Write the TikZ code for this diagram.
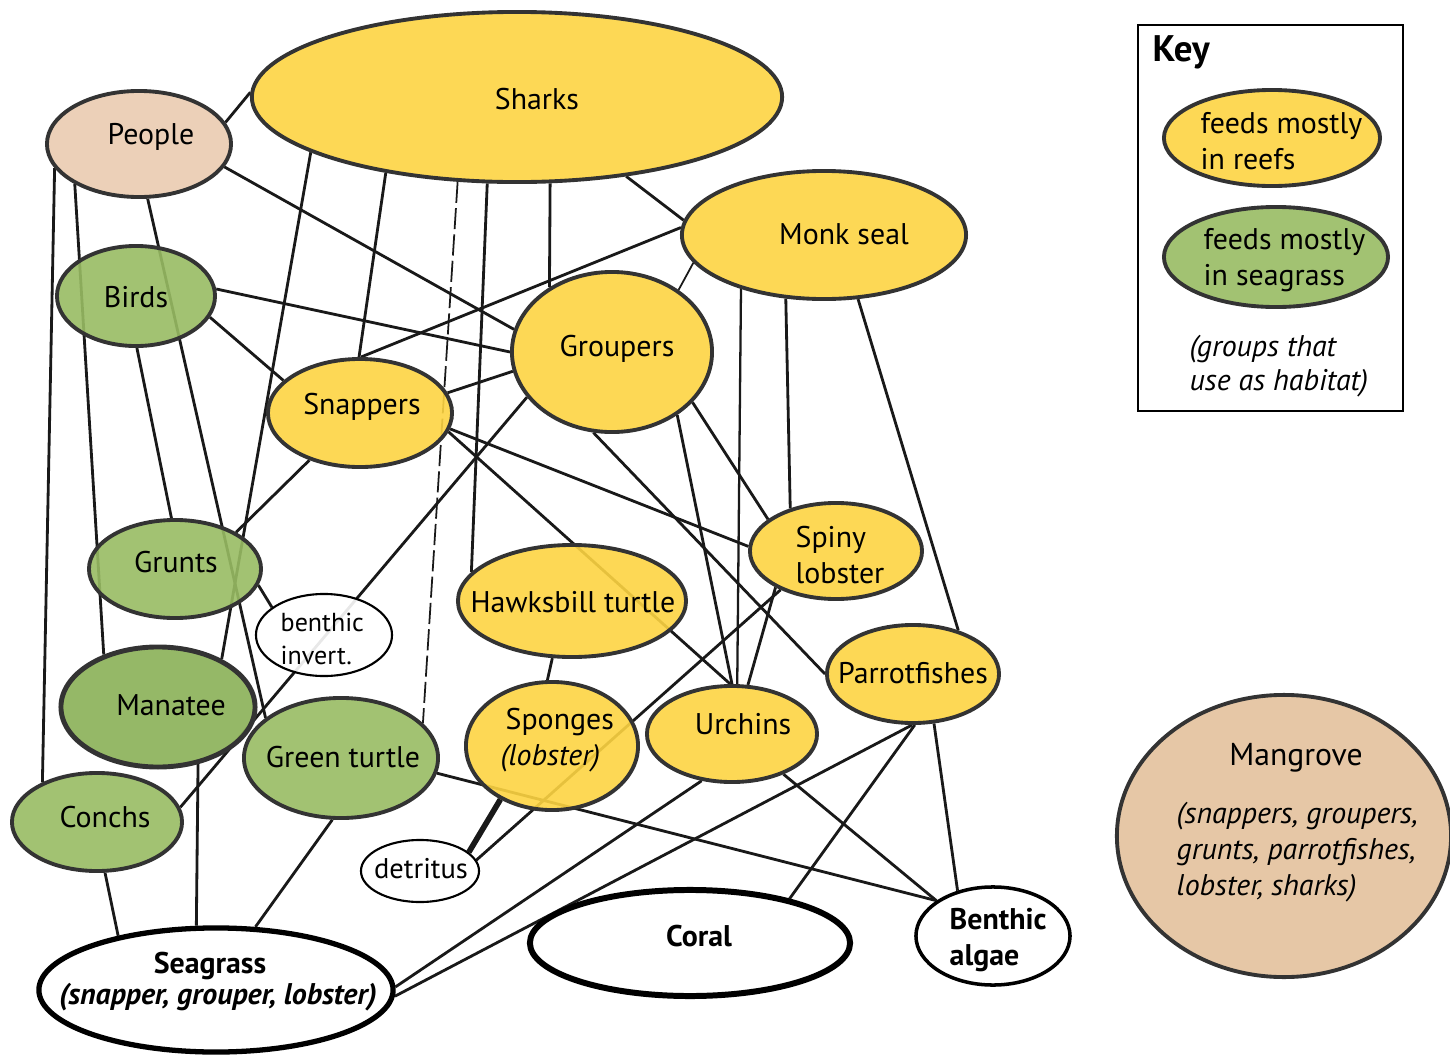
\documentclass[tikz,border=0pt]{standalone}
\usepackage{fontspec}
\setmainfont{PT Sans}
\usetikzlibrary{shapes.geometric}
\pgfdeclarelayer{bg}
\pgfsetlayers{bg,main}
\definecolor{reef}{HTML}{FDD442}
\definecolor{grass}{HTML}{98BB63}
\definecolor{dgrass}{HTML}{8AB056}
\definecolor{peach}{HTML}{EACBB0}
\definecolor{mang}{HTML}{E3C19C}
\definecolor{edgec}{HTML}{333333}
\begin{document}
\begin{tikzpicture}[x=0.01cm,y=-0.01cm,
  font=\fontsize{8.5}{10.4}\selectfont,
  ell/.style={ellipse,draw=edgec,line width=1.1pt,inner sep=0pt,fill opacity=0.9},
  reefn/.style={ell,fill=reef},
  grassn/.style={ell,fill=grass},
  whiten/.style={ellipse,draw=black,fill=white,inner sep=0pt,fill opacity=0.9},
  lbl/.style={inner sep=0pt,align=center},
  lbll/.style={inner sep=0pt,align=left,anchor=west},
  link/.style={line width=0.8pt,black!90},
  thinlink/.style={line width=0.5pt,black!90}]
\useasboundingbox (0,0) rectangle (1450,1057);

% nodes
\node[reefn,minimum width=5.30cm,minimum height=1.70cm] (sharks) at (517,97) {};
\node[ell,fill=peach,minimum width=1.84cm,minimum height=1.06cm] (people) at (139,144) {};
\node[reefn,minimum width=2.84cm,minimum height=1.28cm] (monk) at (824,235) {};
\node[grassn,minimum width=1.58cm,minimum height=1.00cm] (birds) at (136,296) {};
\node[reefn,minimum width=2.00cm,minimum height=1.60cm] (groupers) at (612,352) {};
\node[reefn,minimum width=1.84cm,minimum height=1.08cm] (snappers) at (360,413) {};
\node[grassn,minimum width=1.72cm,minimum height=0.98cm] (grunts) at (175,569) {};
\node[whiten,line width=0.6pt,minimum width=1.36cm,minimum height=0.82cm] (benthic) at (324,635) {};
\node[reefn,minimum width=2.28cm,minimum height=1.12cm] (hawks) at (572,601) {};
\node[reefn,minimum width=1.72cm,minimum height=0.96cm] (spiny) at (836,551) {};
\node[reefn,minimum width=1.72cm,minimum height=0.98cm] (parrot) at (913,674) {};
\node[ell,fill=dgrass,line width=1.4pt,minimum width=1.94cm,minimum height=1.20cm] (manatee) at (158,707) {};
\node[grassn,minimum width=1.94cm,minimum height=1.20cm] (green) at (341,758) {};
\node[reefn,minimum width=1.72cm,minimum height=1.28cm] (sponges) at (552,746) {};
\node[reefn,minimum width=1.70cm,minimum height=0.96cm] (urchins) at (732,734) {};
\node[grassn,minimum width=1.70cm,minimum height=0.98cm] (conchs) at (97,822) {};
\node[whiten,line width=0.6pt,minimum width=1.18cm,minimum height=0.62cm] (detritus) at (420,871) {};
\node[whiten,line width=1.5pt,minimum width=3.54cm,minimum height=1.24cm] (seagrass) at (216,990) {};
\node[whiten,line width=1.7pt,minimum width=3.20cm,minimum height=1.06cm] (coral) at (690,943) {};
\node[whiten,line width=1.0pt,minimum width=1.54cm,minimum height=0.98cm] (algae) at (993,936) {};
\node[ell,fill=mang,minimum width=3.34cm,minimum height=2.82cm] (mangrove) at (1284,836) {};
\node[draw=black,line width=0.6pt,minimum width=2.65cm,minimum height=3.86cm,inner sep=0pt] (keybox) at (1270.5,218) {};
\node[reefn,minimum width=2.16cm,minimum height=0.96cm] (keyy) at (1272,138) {};
\node[grassn,minimum width=2.24cm,minimum height=1.00cm] (keyg) at (1276,257) {};

% labels
\node[lbl] (sharks-t) at (537,99) {Sharks};
\node[lbl] (people-t) at (151,137) {People};
\node[lbl] (monk-t) at (844,234) {Monk seal};
\node[lbl] (birds-t) at (136,297) {Birds};
\node[lbl] (groupers-t) at (617,349) {Groupers};
\node[lbl] (snappers-t) at (362,407) {Snappers};
\node[lbl] (grunts-t) at (176,562) {Grunts};
\node[lbll,font=\fontsize{7.4}{9.2}\selectfont] (benthic-t) at (280,639) {benthic\\invert.};
\node[lbl] (hawks-t) at (573,602) {Hawksbill turtle};
\node[lbll] (spiny-t) at (795,555) {Spiny\\lobster};
\node[lbl] (parrot-t) at (913,673) {Parrotfishes};
\node[lbl] (manatee-t) at (171,705) {Manatee};
\node[lbl] (green-t) at (343,757) {Green turtle};
\node[lbll] (sponges-t) at (500,740) {\hspace*{0.05cm}Sponges\\\textit{(lobster)}};
\node[lbl] (urchins-t) at (743,724) {Urchins};
\node[lbl] (conchs-t) at (105,817) {Conchs};
\node[lbl,font=\fontsize{8.1}{10}\selectfont] (detritus-t) at (421,869) {detritus};
\node[lbl,font=\fontsize{8.5}{10}\selectfont\bfseries] (seagrass-t) at (210,966) {Seagrass};
\node[lbl,font=\fontsize{8.5}{10}\selectfont\bfseries\itshape] (seagrass-s) at (218,997) {(snapper, grouper, lobster)};
\node[lbl,font=\fontsize{8.5}{10}\selectfont\bfseries] (coral-t) at (699,936) {Coral};
\node[lbll,font=\fontsize{8.5}{10.4}\selectfont\bfseries] (algae-t) at (949,940) {Benthic\\algae};
\node[lbl,font=\fontsize{9}{10.4}\selectfont] (mangrove-t) at (1296,758) {Mangrove};
\node[lbll,font=\fontsize{8.5}{10.3}\selectfont\itshape] (mangrove-s) at (1176,852) {(snappers, groupers,\\grunts, parrotfishes,\\lobster, sharks)};
\node[lbll,font=\fontsize{10.5}{12}\selectfont\bfseries] (key-t) at (1152,52) {Key};
\node[lbll] (keyy-t) at (1200,141) {feeds mostly\\in reefs};
\node[lbll] (keyg-t) at (1203,260) {feeds mostly\\in seagrass};
\node[lbll,font=\fontsize{8.5}{9.6}\selectfont\itshape] (keyh-t) at (1189,366) {(groups that\\use as habitat)};

% connectors
\begin{pgfonlayer}{bg}
\draw[link] (people.14) -- (sharks.179);
\draw[link] (people.-15) -- (groupers.167);
\draw[link] (people.196) -- (conchs.144);
\draw[link] (people.212) -- (manatee.136);
\draw[link] (people.-81) -- (green.152);
\draw[link] (birds.5) -- (groupers.180);
\draw[link] (birds.-16) -- (snappers.157);
\draw[link] (birds.-89) -- (grunts.94);
\draw[link] (sharks.-36) -- (monk.174);
\draw[link] (sharks.-69) -- (groupers.134);
\draw[link] (sharks.210) -- (snappers.91);
\draw[link] (sharks.195) -- (manatee.37);
\draw[thinlink,dashed,dash pattern=on 6pt off 1.5pt] (sharks.235) -- (green.23);
\draw[link] (sharks.-109) -- (hawks.164);
\draw[link] (monk.177) -- (snappers.89);
\draw[thinlink] (monk.192) -- (groupers.43);
\draw[thinlink,line width=0.65pt] (monk.213) -- (urchins.84);
\draw[link] (monk.-121) -- (spiny.137);
\draw[link] (monk.-62) -- (parrot.44);
\draw[link] (groupers.191) -- (snappers.13);
\draw[link] (groupers.208) -- (conchs.10);
\draw[link] (groupers.-44) -- (urchins.90);
\draw[link] (groupers.-32) -- (spiny.155);
\draw[link] (groupers.-103) -- (parrot.180);
\draw[link] (snappers.223) -- (grunts.31);
\draw[link] (snappers.-10) -- (spiny.177);
\draw[link] (snappers.-12) -- (urchins.92);
\draw[link] (grunts.-11) -- (benthic.152);
\draw[link] (hawks.-109) -- (sponges.94);
\draw[link] (spiny.215) -- (detritus.11);
\draw[link] (spiny.211) -- (urchins.72);
\draw[link,line width=1.6pt] (sponges.226) -- (detritus.21);
\draw[link] (green.-9) -- (algae.148);
\draw[link] (urchins.-38) -- (algae.148);
\draw[link] (urchins.237) -- (seagrass.1);
\draw[link] (parrot.-91) -- (seagrass.-2);
\draw[link] (parrot.-88) -- (coral.24);
\draw[link] (parrot.-67) -- (algae.128);
\draw[link] (manatee.-55) -- (seagrass.107);
\draw[link] (conchs.-81) -- (seagrass.151);
\draw[link] (green.-98) -- (seagrass.58);
\end{pgfonlayer}
\end{tikzpicture}
\end{document}
